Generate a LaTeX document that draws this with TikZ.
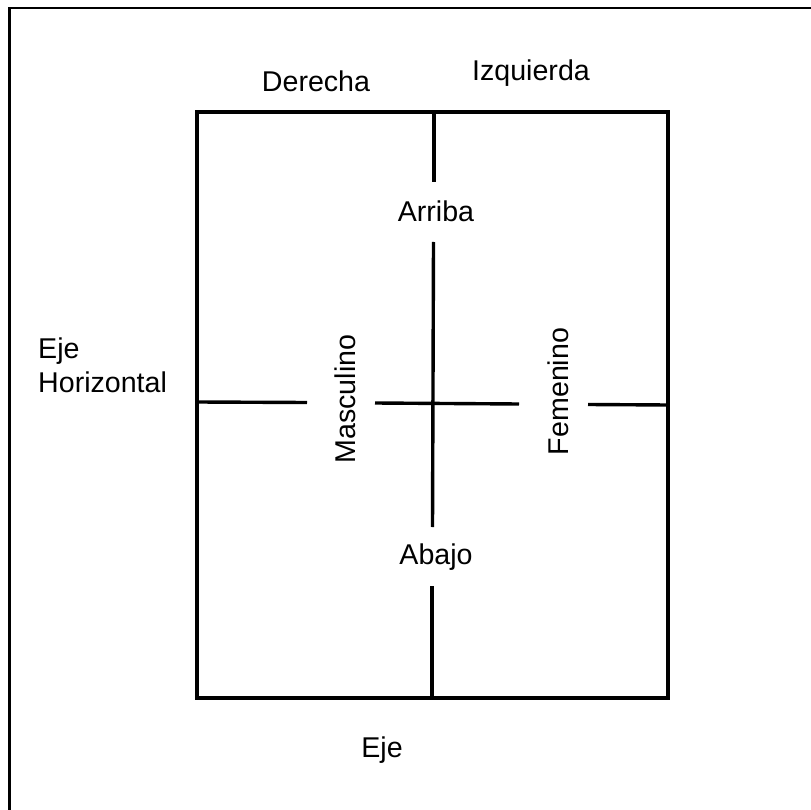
\documentclass[tikz,border=0pt]{standalone}
\usepackage{fontspec}
\setmainfont{Liberation Sans}
\begin{document}
\begin{tikzpicture}[x=1pt,y=-1pt,
  lbl/.style={inner sep=0pt, font=\fontsize{28.6}{34}\selectfont},
  frame/.style={line width=2.5pt},
  axis/.style={line width=3.4pt}]
\useasboundingbox (0,0) rectangle (811,810);
% outer frame (top and left edges)
\coordinate (fbl) at (9.5,812);
\coordinate (ftl) at (9.5,8);
\coordinate (ftr) at (813,8);
\draw[frame] (fbl) -- (ftl) -- (ftr);
% inner box
\coordinate (tl) at (197,112);
\coordinate (br) at (668,698);
\draw[axis] (tl) rectangle (br);
% labels
\node[lbl, anchor=base] (der) at (316,92) {Derecha};
\node[lbl, anchor=base] (izq) at (531,81) {Izquierda};
\node[lbl, anchor=base] (arr) at (436,222) {Arriba};
\node[lbl, anchor=base] (aba) at (436,564) {Abajo};
\node[lbl, anchor=base] (eje) at (382,757) {Eje};
\node[lbl, anchor=base, rotate=90] (mas) at (355,399) {Masculino};
\node[lbl, anchor=base, rotate=90] (fem) at (568,391.5) {Femenino};
\node[lbl, anchor=base west, align=left] (ejh) at (38,392) {Eje\\Horizontal};
% vertical axis
\coordinate (v0) at (434,112);
\coordinate (v1) at (434,182);
\coordinate (v2) at (433.5,242);
\coordinate (v3) at (432.5,527);
\coordinate (v4) at (432,586);
\coordinate (v5) at (432,698);
\draw[axis] (v0) -- (v1);
\draw[axis] (v2) -- (v3);
\draw[axis] (v4) -- (v5);
% horizontal axis
\coordinate (h0) at (197,402);
\coordinate (h1) at (307,402.5);
\coordinate (h2) at (375,403);
\coordinate (h3) at (519,404);
\coordinate (h4) at (588,404.5);
\coordinate (h5) at (668,405);
\draw[axis] (h0) -- (h1);
\draw[axis] (h2) -- (h3);
\draw[axis] (h4) -- (h5);
\end{tikzpicture}
\end{document}
